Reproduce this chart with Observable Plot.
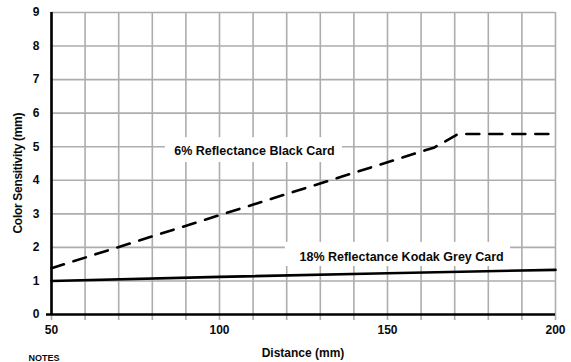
<!DOCTYPE html>
<html>
<head>
<meta charset="utf-8">
<script src="https://cdn.jsdelivr.net/npm/d3@7"></script>
<script src="https://cdn.jsdelivr.net/npm/@observablehq/plot@0.6"></script>
<style>
  html, body { margin: 0; padding: 0; background: #fff; }
  svg { display: block; }
</style>
</head>
<body>
<div id="chart"></div>
<script>
// Data
const blackDistance = [50, 164, 171, 200];
const blackSensitivity = [1.38, 4.98, 5.38, 5.38];
const greyDistance = [50, 100, 150, 200];
const greySensitivity = [1.0, 1.12, 1.23, 1.33];
const xTickLabels = [50, 100, 150, 200];
const xGridValues = [50, 60, 70, 80, 90, 100, 110, 120, 130, 140, 150, 160, 170, 180, 190, 200];
const yTickValues = [0, 1, 2, 3, 4, 5, 6, 7, 8, 9];
const labelTexts = ["6% Reflectance Black Card", "18% Reflectance Kodak Grey Card"];
const labelX = [110.4, 154.2];
const labelY = [4.87, 1.70];
const boxX1 = [83.9, 119.6];
const boxX2 = [136.6, 186.6];
const boxY1 = [4.53, 1.43];
const boxY2 = [5.27, 2.15];
const xAxisTitle = "Distance (mm)";
const yAxisTitle = "Color Sensitivity (mm)";
const notesText = "NOTES";

const black = blackDistance.map((d, i) => ({x: d, y: blackSensitivity[i]}));
const grey = greyDistance.map((d, i) => ({x: d, y: greySensitivity[i]}));
const labels = labelTexts.map((t, i) => ({t, x: labelX[i], y: labelY[i], x1: boxX1[i], x2: boxX2[i], y1: boxY1[i], y2: boxY2[i]}));

function hasFont(name) {
  const c = document.createElement("canvas").getContext("2d");
  const s = "Reflectance Kodak Grey 0123456789";
  c.font = "bold 20px monospace";
  const a = c.measureText(s).width;
  c.font = `bold 20px "${name}", monospace`;
  const b = c.measureText(s).width;
  return Math.abs(a - b) > 0.5;
}
const narrowOk = hasFont("Liberation Sans Narrow");
const font = "'Liberation Sans', Arial, sans-serif";
const labelFont = narrowOk ? "'Liberation Sans Narrow', 'Liberation Sans', sans-serif" : font;
const labelSize = narrowOk ? 14.5 : 12.5;
const gridColor = "#adadad";
const ink = "#0a0a0a";

const chart = Plot.plot({
  width: 571,
  height: 362,
  marginLeft: 51,
  marginRight: 16,
  marginTop: 12,
  marginBottom: 48,
  style: {fontFamily: font, fontSize: "12px", fontWeight: "bold", color: ink, background: "#fff"},
  x: {domain: [50, 200]},
  y: {domain: [0, 9]},
  marks: [
    Plot.ruleX(xGridValues, {stroke: gridColor, strokeWidth: 1.6, insetBottom: -6}),
    Plot.ruleY(yTickValues.filter(d => d > 0), {stroke: gridColor, strokeWidth: 1.6}),
    Plot.rect(labels, {x1: "x1", x2: "x2", y1: "y1", y2: "y2", fill: "#fff"}),
    Plot.text(labels, {x: "x", y: "y", text: "t", fontSize: labelSize, fontFamily: labelFont, fontWeight: "bold", fill: ink}),
    Plot.line(black, {x: "x", y: "y", stroke: "#000", strokeWidth: 2.6, strokeDasharray: "13,10"}),
    Plot.line(grey, {x: "x", y: "y", stroke: "#000", strokeWidth: 2.6}),
    Plot.ruleX([50], {stroke: "#000", strokeWidth: 2.6}),
    Plot.ruleY([0], {stroke: "#000", strokeWidth: 2.6, insetLeft: -5}),
    Plot.axisX(xTickLabels, {tickSize: 0, tickPadding: 11, fontWeight: "bold", fontSize: 12, label: null}),
    Plot.axisY(yTickValues, {tickSize: 0, tickPadding: 12, fontWeight: "bold", fontSize: 12, label: null})
  ]
});

const svg = d3.select(chart);
const addText = (txt) => svg.append("text")
  .attr("font-family", font)
  .attr("font-size", 12)
  .attr("font-weight", "bold")
  .attr("fill", ink)
  .text(txt);

addText(xAxisTitle).attr("x", 303).attr("y", 357).attr("text-anchor", "middle");
addText(yAxisTitle).attr("text-anchor", "middle").attr("transform", "translate(22,173) rotate(-90)").attr("textLength", 121);
addText(notesText).attr("x", 44).attr("y", 361).attr("font-size", 9);

document.getElementById("chart").appendChild(chart);
</script>
</body>
</html>
